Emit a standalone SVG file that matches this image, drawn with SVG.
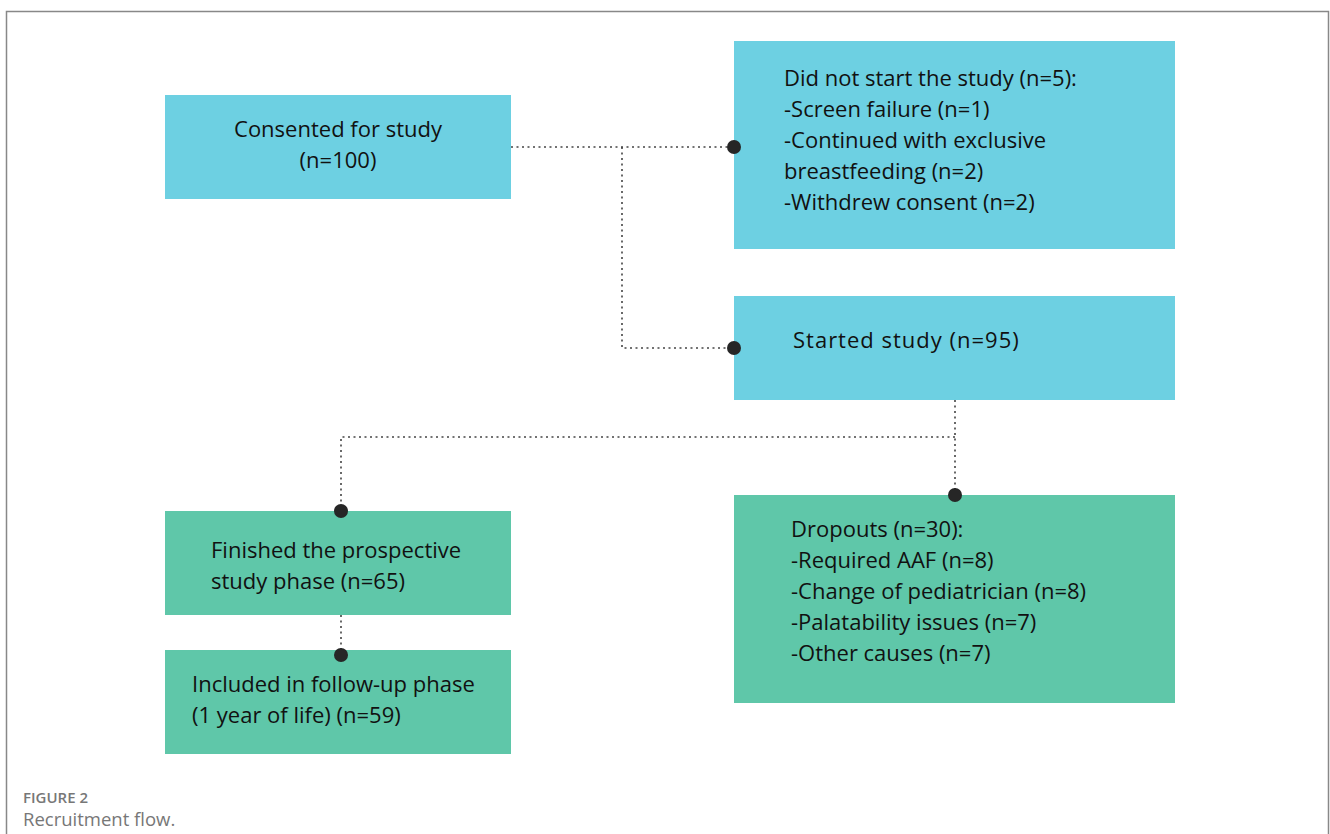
<svg xmlns="http://www.w3.org/2000/svg" width="1330" height="834" viewBox="0 0 1330 834">
<defs>
<style>
.cyan{fill:#6dd0e2}
.green{fill:#5fc7a9}
.t{font-family:"Open Sans","Liberation Sans",sans-serif;font-size:22px;fill:#111}
.c{stroke:#444;stroke-width:1.6;stroke-dasharray:2 3.5;fill:none}
.dot{fill:#262626}
</style>
</defs>
<rect x="0" y="0" width="1330" height="834" fill="#fff"/>
<path d="M6.5 834 V11.5 H1328.5 V834" fill="none" stroke="#888" stroke-width="1.5"/>
<g id="consented">
<rect class="cyan" x="165" y="95" width="346" height="104"/>
<text class="t" x="338" y="137" text-anchor="middle">Consented for study</text>
<text class="t" x="338" y="168" text-anchor="middle">(n=100)</text>
</g>
<g id="notstarted">
<rect class="cyan" x="734" y="41" width="441" height="208"/>
<text class="t" x="784" y="86">Did not start the study (n=5):</text>
<text class="t" x="784" y="117">-Screen failure (n=1)</text>
<text class="t" x="784" y="148">-Continued with exclusive</text>
<text class="t" x="784" y="179">breastfeeding (n=2)</text>
<text class="t" x="784" y="210">-Withdrew consent (n=2)</text>
</g>
<g id="started">
<rect class="cyan" x="734" y="296" width="441" height="104"/>
<text class="t" x="793" y="348" letter-spacing="1">Started study (n=95)</text>
</g>
<g id="finished">
<rect class="green" x="165" y="511" width="346" height="104"/>
<text class="t" x="211" y="558">Finished the prospective</text>
<text class="t" x="211" y="589">study phase (n=65)</text>
</g>
<g id="included">
<rect class="green" x="165" y="650" width="346" height="104"/>
<text class="t" x="192" y="692">Included in follow-up phase</text>
<text class="t" x="192" y="723">(1 year of life) (n=59)</text>
</g>
<g id="dropouts">
<rect class="green" x="734" y="495" width="441" height="208"/>
<text class="t" x="791" y="537">Dropouts (n=30):</text>
<text class="t" x="791" y="568">-Required AAF (n=8)</text>
<text class="t" x="791" y="599">-Change of pediatrician (n=8)</text>
<text class="t" x="791" y="630">-Palatability issues (n=7)</text>
<text class="t" x="791" y="661">-Other causes (n=7)</text>
</g>
<g id="connectors">
<path class="c" d="M511 147 H734"/>
<path class="c" d="M622 147 V348 H734"/>
<path class="c" d="M955 400 V495"/>
<path class="c" d="M955 437 H341 V511"/>
<path class="c" d="M341 615 V655"/>
<circle class="dot" cx="734" cy="147" r="7"/>
<circle class="dot" cx="734" cy="348" r="7"/>
<circle class="dot" cx="955" cy="495" r="7"/>
<circle class="dot" cx="341" cy="511" r="7"/>
<circle class="dot" cx="341" cy="655" r="7"/>
</g>
<g id="caption">
<text x="23" y="803" font-family="'Open Sans','Liberation Sans',sans-serif" font-size="15" font-weight="600" fill="#777">FIGURE 2</text>
<text x="23" y="826" font-family="'Open Sans','Liberation Sans',sans-serif" font-size="18.5" fill="#777">Recruitment flow.</text>
</g>
</svg>
